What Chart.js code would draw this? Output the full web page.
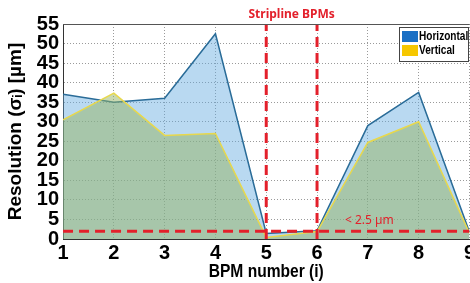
<!DOCTYPE html>
<html><head><meta charset="utf-8">
<script src="https://cdn.jsdelivr.net/npm/chart.js@4/dist/chart.umd.min.js"></script>
<style>
html,body{margin:0;padding:0;background:#fff;overflow:hidden;}
#wrap{width:477px;height:283px;position:relative;}
</style></head>
<body>
<div id="wrap"><canvas id="c"></canvas></div>
<script>
// ---- data ----
const bpmNumbers = [1, 2, 3, 4, 5, 6, 7, 8, 9];
const horizontalRes = [37, 35, 36, 52.5, 1.4, 2.1, 29, 37.5, 1.8];
const verticalRes   = [30.5, 37.3, 26.5, 27, 0.4, 1.9, 24.7, 30, 1.5];
const seriesLabels = ['Horizontal', 'Vertical'];
const limitValue = 2;            // "< 2.5 µm" dashed line level
const limitLabel = '< 2.5 µm';
const striplineBpms = [5, 6];
const striplineLabel = 'Stripline BPMs';
const xTitle = 'BPM number (i)';
const yTitle = 'Resolution (σᵢ) [µm]';
const yMin = 0, yMax = 55, yStep = 5;
const xMin = 1, xMax = 9;

const pts = (ys) => bpmNumbers.map((x, i) => ({x, y: ys[i]}));
const RED = '#e3202b';
const dashedRed = {
  borderColor: RED, borderWidth: 3, borderDash: [10, 6], pointRadius: 0,
  fill: false, order: -1, tension: 0
};

const overlay = {
  id: 'overlay',
  afterDatasetsDraw(chart) {
    const {ctx, chartArea: a, scales: {x, y}} = chart;
    const W = 470;
    ctx.save();
    // top frame line
    ctx.strokeStyle = '#555'; ctx.lineWidth = 1;
    ctx.beginPath(); ctx.moveTo(a.left, a.top + 0.5); ctx.lineTo(a.right, a.top + 0.5); ctx.stroke();
    // stripline title
    ctx.fillStyle = RED;
    ctx.font = 'bold 12px "Noto Sans", sans-serif';
    ctx.textAlign = 'center'; ctx.textBaseline = 'middle';
    ctx.fillText(striplineLabel, (x.getPixelForValue(striplineBpms[0]) + x.getPixelForValue(striplineBpms[1])) / 2, a.top - 9);
    // limit label
    ctx.font = '12px "Noto Sans", sans-serif';
    ctx.textAlign = 'left';
    ctx.fillText(limitLabel, x.getPixelForValue(6.55), y.getPixelForValue(4.6));
    // x title (condensed)
    ctx.fillStyle = '#000';
    ctx.font = 'bold 19px "Liberation Sans", Arial, sans-serif';
    ctx.textAlign = 'center';
    const cx = x.getPixelForValue(5);
    ctx.save();
    ctx.translate(cx, 272); ctx.scale(0.82, 1);
    ctx.fillText(xTitle, 0, 0);
    ctx.restore();
    // legend box
    const right = Math.min(a.right, W - 1);
    const lx = right - 70, ly = a.top + 3, lw = 70, lh = 35;
    ctx.fillStyle = '#fff'; ctx.fillRect(lx, ly, lw, lh);
    ctx.strokeStyle = '#444'; ctx.lineWidth = 1;
    ctx.strokeRect(lx + 0.5, ly + 0.5, lw - 1, lh - 1);
    const sw = ['#1a6fc4', '#f6c700'];
    ctx.font = 'bold 12px "Liberation Sans", Arial, sans-serif';
    ctx.textAlign = 'left'; ctx.textBaseline = 'middle';
    seriesLabels.forEach((lab, i) => {
      const yy = ly + 4 + i * 14;
      ctx.fillStyle = sw[i];
      ctx.fillRect(lx + 3, yy, 16, 11);
      ctx.fillStyle = '#000';
      ctx.save();
      ctx.translate(lx + 20, yy + 6); ctx.scale(0.84, 1);
      ctx.fillText(lab, 0, 0);
      ctx.restore();
    });
    ctx.restore();
  }
};

new Chart(document.getElementById('c'), {
  type: 'line',
  data: {
    datasets: [
      { label: seriesLabels[0], data: pts(horizontalRes), borderColor: '#2a6c98', borderWidth: 1.5,
        backgroundColor: 'rgba(100,170,225,0.45)', fill: 'origin', pointRadius: 0, order: 1, tension: 0 },
      { label: seriesLabels[1], data: pts(verticalRes), borderColor: '#e8d84c', borderWidth: 1.5,
        backgroundColor: 'rgba(150,180,100,0.5)', fill: 'origin', pointRadius: 0, order: 0, tension: 0 },
      Object.assign({ label: 'limit', data: [{x: xMin, y: limitValue}, {x: xMax, y: limitValue}] }, dashedRed),
      Object.assign({ label: 's1', data: [{x: striplineBpms[0], y: yMin}, {x: striplineBpms[0], y: yMax}] }, dashedRed),
      Object.assign({ label: 's2', data: [{x: striplineBpms[1], y: yMin}, {x: striplineBpms[1], y: yMax}] }, dashedRed)
    ]
  },
  options: {
    responsive: true, maintainAspectRatio: false, animation: false,
    layout: { padding: { top: 24, right: 0, left: 4, bottom: 16 } },
    plugins: { legend: { display: false }, tooltip: { enabled: false } },
    scales: {
      x: {
        type: 'linear', min: xMin, max: xMax,
        ticks: { stepSize: 1, color: '#000', padding: 2, autoSkip: false,
          font: { family: '"Liberation Sans", Arial, sans-serif', size: 20, weight: 'bold' } },
        grid: { color: '#9a9a9a', drawTicks: false, lineWidth: 1 },
        border: { display: true, color: '#333', width: 1, dash: [1, 2] }
      },
      y: {
        min: yMin, max: yMax,
        ticks: { stepSize: yStep, color: '#000', padding: 4, autoSkip: false,
          font: { family: '"Liberation Sans", Arial, sans-serif', size: 20, weight: 'bold', lineHeight: 0.9 } },
        grid: { color: '#9a9a9a', drawTicks: false, lineWidth: 1 },
        border: { display: true, color: '#333', width: 1, dash: [1, 2] },
        title: { display: true, text: yTitle, color: '#000', padding: {top: 0, bottom: 6},
          font: { family: '"Liberation Sans", Arial, sans-serif', size: 19, weight: 'bold' } }
      }
    }
  },
  plugins: [overlay]
});
</script>
</body></html>
